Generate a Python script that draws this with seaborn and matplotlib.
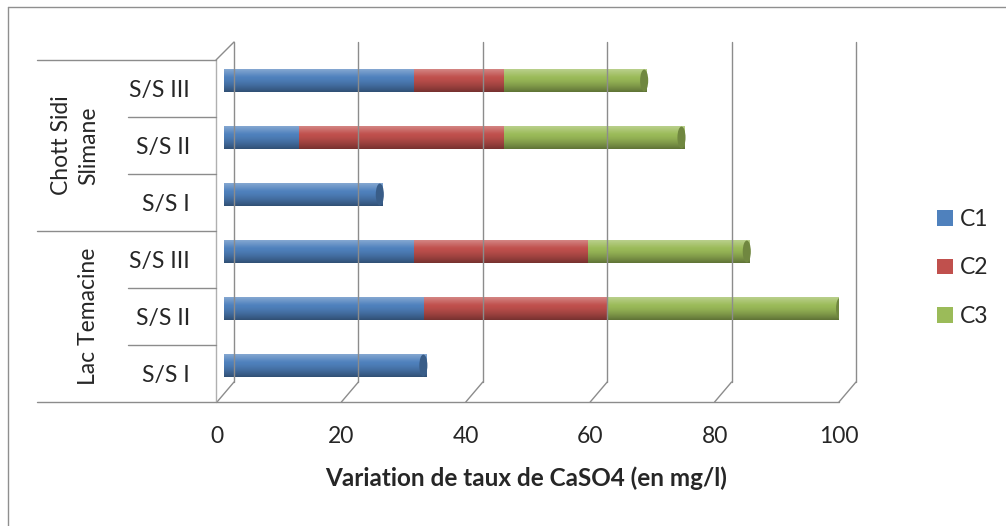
import numpy as np
import pandas as pd
import matplotlib
matplotlib.use("Agg")
import matplotlib.pyplot as plt
from matplotlib.lines import Line2D
from matplotlib.patches import Patch, Ellipse
from matplotlib.transforms import ScaledTranslation, IdentityTransform
from matplotlib.colors import to_rgb
import seaborn as sns

# ---- data (rows listed from top to bottom) ----
row_site = ["Chott Sidi\nSlimane"] * 3 + ["Lac Temacine"] * 3
row_sub = ["S/S III", "S/S II", "S/S I", "S/S III", "S/S II", "S/S I"]
c1 = [30.5, 12.0, 25.5, 30.5, 32.0, 32.5]
c2 = [14.5, 33.0, 0.0, 28.0, 29.5, 0.0]
c3 = [23.0, 29.0, 0.0, 26.0, 38.0, 0.0]
series = ["C1", "C2", "C3"]
colors = ["#4F81BD", "#C0504D", "#9BBB59"]
x_ticks = [0, 20, 40, 60, 80, 100]
x_label = "Variation de taux de CaSO4 (en mg/l)"

sns.set_style("white")
plt.rcParams["font.family"] = ["Lato", "DejaVu Sans"]
FS = 16.5

W, H = 1006, 526
fig = plt.figure(figsize=(W / 100, H / 100), dpi=100)


def fx(px):
    return px / W


def fy(py):
    return 1 - py / H


ax = fig.add_axes([fx(217), fy(402), fx(839) - fx(217), fy(60) - fy(402)])

df = pd.DataFrame({
    "row": [f"{s}|{r}" for s, r in zip(row_site, row_sub)],
    "C1": c1, "C2": c2, "C3": c3,
})
df["C12"] = df["C1"] + df["C2"]
df["C123"] = df["C12"] + df["C3"]

BAR_H = 0.40
# stacked bars: draw cumulative totals from the longest down to C1
for col, colr in [("C123", colors[2]), ("C12", colors[1]), ("C1", colors[0])]:
    sns.barplot(data=df, y="row", x=col, orient="h", color=colr, width=BAR_H,
                saturation=1, linewidth=0, ax=ax)

ax.set_xlim(0, 100)
ax.set_ylim(5.5, -0.5)

# bars sit in the middle of the depth: shift them a little right and up
bar_shift = ax.transData + ScaledTranslation(7 / 100, 8 / 100, fig.dpi_scale_trans)


def shade(rgb, t):
    """Cylinder-like shading: light on top, darker at the bottom."""
    rgb = np.array(rgb)
    if t < 0.35:
        k = 0.30 * (0.35 - t) / 0.35
        return rgb + (1 - rgb) * k
    k = 0.38 * ((t - 0.35) / 0.65) ** 1.4
    return rgb * (1 - k)


patches = list(ax.patches)
for p in patches:
    p.set_transform(bar_shift)
    w = p.get_width()
    if w <= 0:
        continue
    rgb = to_rgb(p.get_facecolor())
    n = 40
    grad = np.array([[shade(rgb, i / (n - 1))] for i in range(n)])
    x0, y0, h = p.get_x(), p.get_y(), p.get_height()
    im = ax.imshow(grad, extent=(x0, x0 + w, y0 + h, y0), origin="upper",
                   aspect="auto", interpolation="bilinear", zorder=2.5)
    im.set_transform(bar_shift)

# rounded caps at the end of every bar
totals = df["C123"].to_numpy()
last_col = [colors[2] if c3[i] > 0 else (colors[1] if c2[i] > 0 else colors[0])
            for i in range(len(totals))]
for i, (tot, colr) in enumerate(zip(totals, last_col)):
    rgb = np.array(to_rgb(colr))
    e = Ellipse((tot - 0.45, i), width=1.3, height=BAR_H * 0.96,
                facecolor=rgb * 0.72, edgecolor="none", zorder=2.6,
                transform=bar_shift)
    ax.add_patch(e)

ax.set_xlim(0, 100)
ax.set_ylim(5.5, -0.5)

for s in ax.spines.values():
    s.set_visible(False)
ax.set_facecolor("none")
ax.grid(False)

ax.set_xticks(x_ticks)
ax.set_xticklabels([str(t) for t in x_ticks], fontsize=FS)
ax.set_yticks(range(len(row_sub)))
ax.set_yticklabels(row_sub, fontsize=FS)
ax.tick_params(axis="y", length=0, pad=19.5)
ax.tick_params(axis="x", length=4, width=1, color="#8a8a8a", direction="out", pad=13)
ax.set_xlabel("")
ax.set_ylabel("")

# ---- 3D-style back wall and floor ----
fig.canvas.draw()
GRID = "#8c8c8c"
DX, DY = 17, 20  # depth offset in pixels
td = ax.transData
ident = IdentityTransform()


def line(xs, ys, **kw):
    fig.add_artist(Line2D(xs, ys, transform=ident, color=kw.pop("color", GRID),
                          lw=kw.pop("lw", 1.0), **kw))


for t in x_ticks:
    fxp, fyp = td.transform((t, 5.5))    # front foot
    bxp, byp = td.transform((t, -0.5))   # front top
    line([fxp, fxp + DX], [fyp, fyp + DY])
    line([fxp + DX, fxp + DX], [fyp + DY, byp + DY - 2])

# left wall front edge and top edge
lx, by_ = td.transform((0, 5.5))
_, ty_ = td.transform((0, -0.5))
line([lx - 1, lx - 1], [by_, ty_], color="#b0b0b0")
line([lx - 1, lx + DX], [ty_, ty_ + DY - 2])

# floor front edge / bottom axis line
rx, _ = td.transform((100, 5.5))
line([37 * 1.0, rx], [by_, by_])

# category axis separators
for b in [-0.5, 0.5, 1.5, 2.5, 3.5, 4.5]:
    _, yy = td.transform((0, b))
    x_start = 37 if b in (-0.5, 2.5) else 128
    line([x_start, lx - 1], [yy, yy])

# group labels
for site, rows in [("Chott Sidi\nSlimane", (0, 2)), ("Lac Temacine", (3, 5))]:
    _, ya = td.transform((0, rows[0] - 0.5))
    _, yb = td.transform((0, rows[1] + 0.5))
    fig.text(99 / W, (ya + yb) / 2 / H, site, rotation=90, ha="right", va="center",
             multialignment="center", fontsize=FS, linespacing=1.35)

# axis title
fig.text(fx(526), fy(478), x_label, ha="center", va="center",
         fontsize=17.5, fontweight="bold")

# legend
handles = [Patch(facecolor=c, edgecolor="none") for c in colors]
fig.legend(handles, series, loc="center left", bbox_to_anchor=(fx(937), fy(268)),
           frameon=False, fontsize=FS, handlelength=0.68, handleheight=0.68,
           handletextpad=0.3, labelspacing=1.2, borderpad=0, borderaxespad=0)

# chart frame (top and left edges)
line([8, W], [H - 7, H - 7], color="#8f8f8f")
line([8, 8], [0, H - 7], color="#8f8f8f")

fig.savefig("out.png", dpi=100, facecolor="white")
